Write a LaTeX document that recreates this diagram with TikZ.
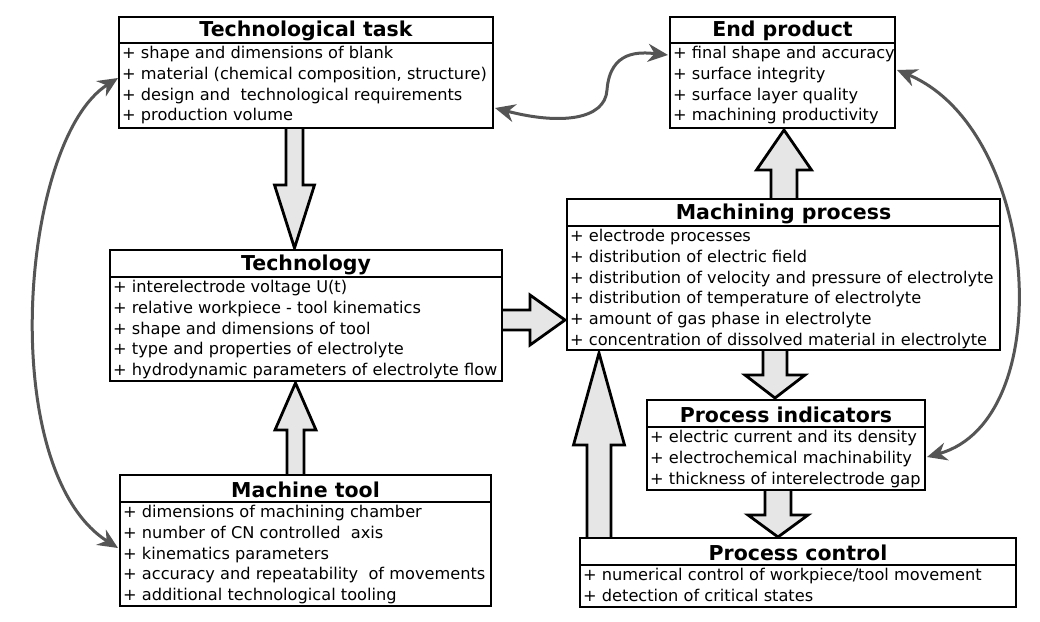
\documentclass[tikz,border=0pt]{standalone}
\usepackage{fontspec}
\setmainfont{DejaVu Sans}
\usetikzlibrary{arrows.meta}
\definecolor{cg}{HTML}{555555}
\definecolor{af}{HTML}{E6E6E6}
\tikzset{
 bx/.style={draw,line width=2.8pt,fill=white},
 body/.style={anchor=north west,align=left,inner sep=0pt,font=\fontsize{16.2}{20.8}\selectfont},
 ttl/.style={font=\bfseries\fontsize{20.5}{22}\selectfont,inner sep=0pt},
 barrow/.style={draw,line width=2.8pt,fill=af,line join=miter},
 link/.style={draw=cg,line width=3pt,{Stealth[length=20pt,width=18pt]}-{Stealth[length=20pt,width=18pt]}}
}
\newcommand\mkbox[7]{% name, x1, x2, ytop, ymid, ybot, title
 \draw[bx] (#2,#4) rectangle (#3,#6);
 \draw[line width=2.8pt] (#2,#5) -- (#3,#5);
 \node[ttl] (#1) at ({(#2+#3)/2},{(#4+#5)/2+1}) {#7};
}
\newcommand\varr[6]{\draw[barrow] ({#1-#4},#2) -- ({#1-#4},#6) -- ({#1-#5},#6) -- (#1,#3) -- ({#1+#5},#6) -- ({#1+#4},#6) -- ({#1+#4},#2);}
\begin{document}
\begin{tikzpicture}[x=1pt,y=-1pt]
\useasboundingbox[fill=white] (0,0) rectangle (1040,621);
% block arrows
\varr{294.5}{128}{248}{8.5}{20}{185}
\varr{295.5}{475}{383}{8.5}{20.5}{430}
\varr{784}{199}{130}{13}{27.5}{170}
\varr{775}{350}{398}{12}{30}{375}
\varr{778}{490}{537}{13}{30}{515}
\varr{599}{538}{353}{12}{25.5}{445}
\draw[barrow] (502,310) -- (530,310) -- (530,295) -- (565,320) -- (530,345) -- (530,330) -- (502,330);
% boxes
\mkbox{tt}{119}{493}{17}{43}{128}{Technological task}
\node[body] (ttb) at (122,46) {+ shape and dimensions of blank\\+ material (chemical composition, structure)\\+ design and\ \ technological requirements\\+ production volume};
\mkbox{ep}{670}{895}{17}{43}{128}{End product}
\node[body] (epb) at (673,46) {+ final shape and accuracy\\+ surface integrity\\+ surface layer quality\\+ machining productivity};
\mkbox{mp}{567}{1000}{199}{226}{350}{Machining process}
\node[body] (mpb) at (570,229) {+ electrode processes\\+ distribution of electric field\\+ distribution of velocity and pressure of electrolyte\\+ distribution of temperature of electrolyte\\+ amount of gas phase in electrolyte\\+ concentration of dissolved material in electrolyte};
\mkbox{te}{110}{502}{250}{277}{381}{Technology}
\node[body] (teb) at (113,280) {+ interelectrode voltage U(t)\\+ relative workpiece - tool kinematics\\+ shape and dimensions of tool\\+ type and properties of electrolyte\\+ hydrodynamic parameters of electrolyte flow};
\mkbox{pi}{647}{925}{400}{427}{490}{Process indicators}
\node[body] (pib) at (650,430) {+ electric current and its density\\+ electrochemical machinability\\+ thickness of interelectrode gap};
\mkbox{mt}{120}{491}{475}{502}{606}{Machine tool}
\node[body] (mtb) at (123,505) {+ dimensions of machining chamber\\+ number of CN controlled\ \ axis\\+ kinematics parameters\\+ accuracy and repeatability\ \ of movements\\+ additional technological tooling};
\mkbox{pc}{580}{1016}{538}{565}{607}{Process control}
\node[body] (pcb) at (583,568) {+ numerical control of workpiece/tool movement\\+ detection of critical states};
% curved links
\coordinate (a1) at (118,78); \coordinate (a2) at (118,548);
\draw[link] (a1) .. controls (20,140) and (-5,470) .. (a2);
\coordinate (b1) at (495,108); \coordinate (b2) at (668,55);
\draw[link] (b1) .. controls (560,125) and (605,120) .. (607,90) .. controls (610,50) and (640,52) .. (b2);
\coordinate (c1) at (897,70); \coordinate (c2) at (927,457);
\draw[link] (c1) .. controls (1040,130) and (1060,420) .. (c2);
\end{tikzpicture}
\end{document}
